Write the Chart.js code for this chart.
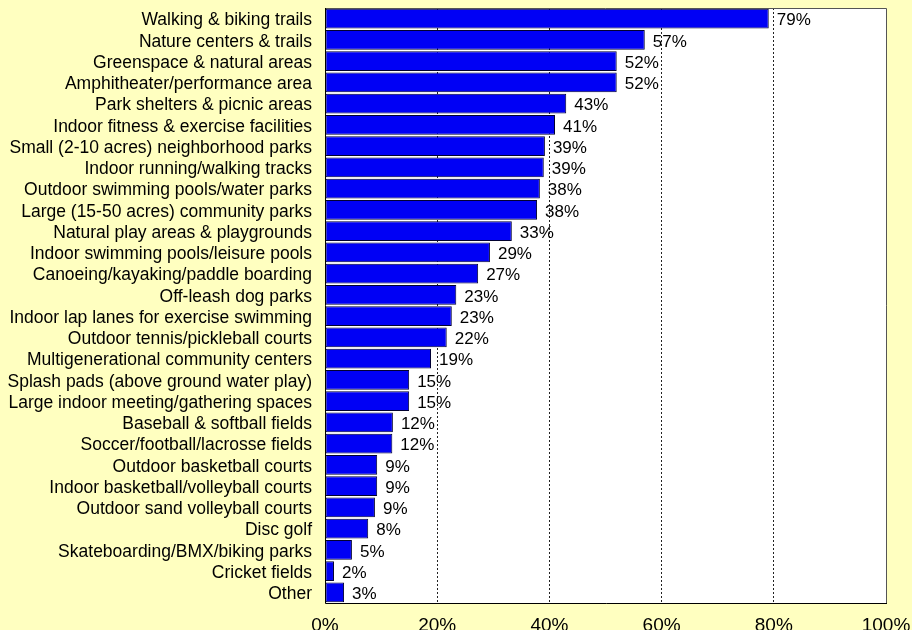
<!DOCTYPE html>
<html>
<head>
<meta charset="utf-8">
<script src="https://cdn.jsdelivr.net/npm/chart.js@4"></script>
<style>
  html, body { margin: 0; padding: 0; background: #FFFFC0; }
  #wrap { width: 912px; height: 630px; }
</style>
</head>
<body>
<div id="wrap"><canvas id="amenityChart"></canvas></div>
<script>
// amenities, top to bottom
const amenities = [
    'Walking & biking trails',
    'Nature centers & trails',
    'Greenspace & natural areas',
    'Amphitheater/performance area',
    'Park shelters & picnic areas',
    'Indoor fitness & exercise facilities',
    'Small (2-10 acres) neighborhood parks',
    'Indoor running/walking tracks',
    'Outdoor swimming pools/water parks',
    'Large (15-50 acres) community parks',
    'Natural play areas & playgrounds',
    'Indoor swimming pools/leisure pools',
    'Canoeing/kayaking/paddle boarding',
    'Off-leash dog parks',
    'Indoor lap lanes for exercise swimming',
    'Outdoor tennis/pickleball courts',
    'Multigenerational community centers',
    'Splash pads (above ground water play)',
    'Large indoor meeting/gathering spaces',
    'Baseball & softball fields',
    'Soccer/football/lacrosse fields',
    'Outdoor basketball courts',
    'Indoor basketball/volleyball courts',
    'Outdoor sand volleyball courts',
    'Disc golf',
    'Skateboarding/BMX/biking parks',
    'Cricket fields',
    'Other'
];
// percent of respondents
const percentValues = [79.1, 57.0, 52.0, 52.0, 43.0, 41.0, 39.2, 39.0, 38.3, 37.8, 33.3, 29.4, 27.3, 23.4,
    22.6, 21.7, 18.9, 15.0, 15.0, 12.1, 12.0, 9.3, 9.3, 8.9, 7.7, 4.8, 1.6, 3.4];
const xTicks = [0, 20, 40, 60, 80, 100];

const FONT = 'Arial, "Liberation Sans", sans-serif';

// value labels at the end of each bar
const barValueLabels = {
    id: 'barValueLabels',
    afterDatasetsDraw(chart) {
        const ctx = chart.ctx;
        const meta = chart.getDatasetMeta(0);
        ctx.save();
        ctx.font = '17px ' + FONT;
        ctx.fillStyle = '#000';
        ctx.textAlign = 'left';
        ctx.textBaseline = 'middle';
        meta.data.forEach((bar, i) => {
            ctx.fillText(Math.round(percentValues[i]) + '%', bar.x + 8, bar.y + 2);
        });
        ctx.restore();
    }
};

// plot area frame: white fill, grey top/right, black left/bottom
const plotFrame = {
    id: 'plotFrame',
    beforeDraw(chart) {
        const a = chart.chartArea;
        const ctx = chart.ctx;
        ctx.save();
        ctx.fillStyle = '#FFFFC0';
        ctx.fillRect(0, 0, chart.width, chart.height);
        ctx.fillStyle = '#fff';
        ctx.fillRect(a.left, a.top, a.right - a.left, a.bottom - a.top);
        ctx.restore();
    },
    afterDraw(chart) {
        const a = chart.chartArea;
        const ctx = chart.ctx;
        ctx.save();
        ctx.lineWidth = 1;
        ctx.strokeStyle = '#555';
        ctx.beginPath();
        ctx.moveTo(a.left, a.top + 0.5);
        ctx.lineTo(a.right + 0.5, a.top + 0.5);
        ctx.lineTo(a.right + 0.5, a.bottom);
        ctx.stroke();
        ctx.strokeStyle = '#000';
        ctx.beginPath();
        ctx.moveTo(a.left + 0.5, a.top);
        ctx.lineTo(a.left + 0.5, a.bottom + 0.5);
        ctx.lineTo(a.right + 1, a.bottom + 0.5);
        ctx.stroke();
        ctx.restore();
    }
};

const ctx = document.getElementById('amenityChart').getContext('2d');

new Chart(ctx, {
    type: 'bar',
    data: {
        labels: amenities,
        datasets: [{
            data: percentValues,
            backgroundColor: '#0000F5',
            borderColor: '#000030',
            borderWidth: 1,
            borderSkipped: false,
            barPercentage: 0.94,
            categoryPercentage: 1.0
        }]
    },
    options: {
        indexAxis: 'y',
        responsive: true,
        maintainAspectRatio: false,
        animation: false,
        layout: {
            padding: { top: 8, right: 26, bottom: 0, left: 0 }
        },
        scales: {
            x: {
                min: 0,
                max: 100,
                afterBuildTicks(axis) {
                    axis.ticks = xTicks.map(v => ({ value: v }));
                },
                afterFit(axis) {
                    axis.height = 27;
                    axis.paddingLeft = 0;
                    axis.paddingRight = 0;
                },
                ticks: {
                    callback: v => v + '%',
                    color: '#000',
                    padding: 11,
                    maxRotation: 0,
                    font: { family: FONT, size: 19 }
                },
                grid: {
                    drawTicks: false,
                    color: c => (c.tick && c.tick.value > 0 && c.tick.value < 100) ? '#222' : 'rgba(0,0,0,0)',
                    lineWidth: 1
                },
                border: { display: false, dash: [2, 2] }
            },
            y: {
                afterFit(axis) {
                    axis.width = 325;
                    axis.paddingTop = 0;
                    axis.paddingBottom = 0;
                },
                ticks: {
                    color: '#000',
                    padding: 13,
                    labelOffset: 2,
                    autoSkip: false,
                    font: { family: FONT, size: 17.5 }
                },
                grid: { display: false, drawTicks: false },
                border: { display: false }
            }
        },
        plugins: {
            legend: { display: false },
            tooltip: { enabled: false }
        }
    },
    plugins: [plotFrame, barValueLabels]
});
</script>
</body>
</html>
